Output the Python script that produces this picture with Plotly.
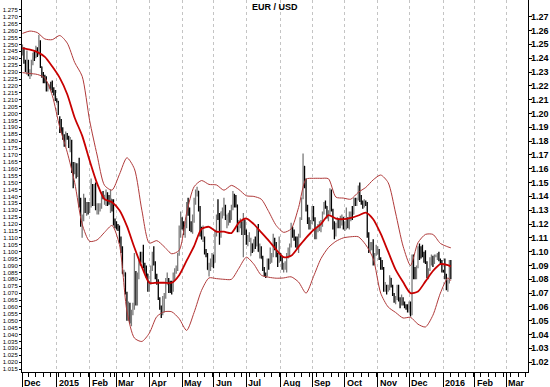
import pandas as pd
import plotly.graph_objects as go

# ---------------- data ----------------
first_day = "2014-12-01"
last_bar_day = "2016-01-08"
axis_end_day = "2016-03-31"
missing_days = ["2015-02-24", "2015-02-25"]   # days absent from the source data

opens = [
    # Dec 2014
    1.2452, 1.2470, 1.2380, 1.2310, 1.2380, 1.2290, 1.2310, 1.2380, 1.2440, 1.2430, 1.2470, 1.2440,
    1.2510, 1.2340, 1.2290, 1.2230, 1.2230, 1.2180, 1.2190, 1.2200, 1.2180, 1.2160, 1.2160,
    # Jan 2015
    1.2100, 1.2090, 1.1960, 1.1930, 1.1890, 1.1840, 1.1790, 1.1840, 1.1830, 1.1770, 1.1790, 1.1630,
    1.1570, 1.1640, 1.1560, 1.1610, 1.1370, 1.1150, 1.1240, 1.1380, 1.1290, 1.1320,
    # Feb
    1.1290, 1.1340, 1.1480, 1.1340, 1.1480, 1.1310, 1.1320, 1.1320, 1.1330, 1.1400, 1.1390, 1.1410,
    1.1410, 1.1400, 1.1370, 1.1380, 1.1360, 1.1200,
    # Mar
    1.1190, 1.1180, 1.1180, 1.1070, 1.1030, 1.0840, 1.0850, 1.0700, 1.0550, 1.0620, 1.0490, 1.0570,
    1.0600, 1.0850, 1.0660, 1.0820, 1.0940, 1.0930, 1.0970, 1.0890, 1.0890, 1.0840,
    # Apr
    1.0730, 1.0770, 1.0880, 1.0980, 1.0920, 1.0810, 1.0780, 1.0660, 1.0600, 1.0570, 1.0660, 1.0680,
    1.0760, 1.0800, 1.0740, 1.0730, 1.0730, 1.0820, 1.0870, 1.0890, 1.0980, 1.1130,
    # May
    1.1220, 1.1200, 1.1140, 1.1180, 1.1350, 1.1270, 1.1200, 1.1160, 1.1220, 1.1350, 1.1410, 1.1440,
    1.1310, 1.1150, 1.1090, 1.1100, 1.1010, 1.0980, 1.0870, 1.0900, 1.0920,
    # Jun
    1.0960, 1.0920, 1.1150, 1.1250, 1.1240, 1.1110, 1.1290, 1.1290, 1.1320, 1.1250, 1.1260, 1.1280,
    1.1240, 1.1330, 1.1370, 1.1350, 1.1340, 1.1170, 1.1200, 1.1200, 1.0980, 1.1230,
    # Jul
    1.1150, 1.1060, 1.1090, 1.0970, 1.1060, 1.1010, 1.1080, 1.1040, 1.1160, 1.1000, 1.1010, 1.0950,
    1.0880, 1.0830, 1.0830, 1.0940, 1.0930, 1.0980, 1.0980, 1.1090, 1.1060, 1.0990, 1.0930,
    # Aug
    1.0980, 1.0950, 1.0890, 1.0900, 1.0920, 1.0970, 1.1020, 1.1040, 1.1160, 1.1150, 1.1100, 1.1080,
    1.1030, 1.1120, 1.1240, 1.1390, 1.1620, 1.1510, 1.1320, 1.1240, 1.1180,
    # Sep
    1.1210, 1.1310, 1.1230, 1.1120, 1.1150, 1.1170, 1.1200, 1.1200, 1.1280, 1.1340, 1.1330, 1.1270,
    1.1280, 1.1430, 1.1300, 1.1190, 1.1130, 1.1190, 1.1210, 1.1190, 1.1240, 1.1250,
    # Oct
    1.1180, 1.1190, 1.1210, 1.1190, 1.1270, 1.1280, 1.1270, 1.1360, 1.1350, 1.1380, 1.1470, 1.1380,
    1.1350, 1.1330, 1.1350, 1.1340, 1.1110, 1.1020, 1.1050, 1.1050, 1.0920, 1.0980,
    # Nov
    1.1010, 1.1010, 1.0950, 1.0880, 1.0880, 1.0740, 1.0750, 1.0720, 1.0730, 1.0810, 1.0730, 1.0690,
    1.0640, 1.0660, 1.0730, 1.0650, 1.0640, 1.0650, 1.0620, 1.0610, 1.0590,
    # Dec
    1.0570, 1.0630, 1.0610, 1.0940, 1.0880, 1.0840, 1.0890, 1.1020, 1.0990, 1.0990, 1.0990, 1.0930,
    1.0920, 1.0830, 1.0870, 1.0920, 1.0960, 1.0920, 1.0970, 1.0970, 1.0970, 1.0940, 1.0930,
    # Jan 2016
    1.0860, 1.0860, 1.0830, 1.0750, 1.0780, 1.0930,
]
highs = [
    1.2500, 1.2480, 1.2390, 1.2456, 1.2390, 1.2320, 1.2390, 1.2440, 1.2460, 1.2490, 1.2480, 1.2570,
    1.2530, 1.2340, 1.2300, 1.2280, 1.2270, 1.2220, 1.2210, 1.2230, 1.2240, 1.2190, 1.2170,
    1.2110, 1.2090, 1.1980, 1.1960, 1.1900, 1.1850, 1.1870, 1.1860, 1.1840, 1.1830, 1.1810, 1.1650,
    1.1650, 1.1640, 1.1640, 1.1680, 1.1390, 1.1270, 1.1420, 1.1390, 1.1360, 1.1360,
    1.1360, 1.1530, 1.1490, 1.1490, 1.1500, 1.1350, 1.1350, 1.1350, 1.1430, 1.1440, 1.1410, 1.1450,
    1.1430, 1.1410, 1.1450, 1.1380, 1.1380, 1.1240,
    1.1220, 1.1200, 1.1190, 1.1110, 1.1040, 1.0870, 1.0850, 1.0710, 1.0640, 1.0630, 1.0580, 1.0630,
    1.0990, 1.0860, 1.0850, 1.0950, 1.1000, 1.1000, 1.1050, 1.0920, 1.0900, 1.0840,
    1.0790, 1.0900, 1.1000, 1.1040, 1.0930, 1.0840, 1.0800, 1.0670, 1.0610, 1.0680, 1.0700, 1.0810,
    1.0850, 1.0810, 1.0790, 1.0790, 1.0850, 1.0880, 1.0900, 1.0990, 1.1190, 1.1290,
    1.1250, 1.1220, 1.1220, 1.1360, 1.1390, 1.1320, 1.1220, 1.1270, 1.1390, 1.1450, 1.1470, 1.1440,
    1.1330, 1.1180, 1.1190, 1.1110, 1.1020, 1.0990, 1.0920, 1.0950, 1.0990,
    1.0980, 1.1160, 1.1270, 1.1380, 1.1280, 1.1290, 1.1320, 1.1390, 1.1340, 1.1270, 1.1280, 1.1300,
    1.1340, 1.1440, 1.1420, 1.1410, 1.1340, 1.1230, 1.1240, 1.1220, 1.1280, 1.1230,
    1.1160, 1.1120, 1.1140, 1.1100, 1.1060, 1.1090, 1.1110, 1.1170, 1.1200, 1.1060, 1.1040, 1.0970,
    1.0890, 1.0850, 1.0950, 1.0950, 1.1030, 1.0990, 1.1130, 1.1100, 1.1070, 1.0990, 1.1110,
    1.0990, 1.0970, 1.0920, 1.0930, 1.0990, 1.1030, 1.1060, 1.1210, 1.1180, 1.1160, 1.1110, 1.1110,
    1.1130, 1.1250, 1.1390, 1.1710, 1.1620, 1.1530, 1.1340, 1.1250, 1.1230,
    1.1330, 1.1330, 1.1250, 1.1170, 1.1200, 1.1220, 1.1230, 1.1290, 1.1360, 1.1370, 1.1330, 1.1300,
    1.1460, 1.1450, 1.1310, 1.1220, 1.1210, 1.1250, 1.1240, 1.1260, 1.1270, 1.1250,
    1.1220, 1.1320, 1.1250, 1.1290, 1.1290, 1.1330, 1.1390, 1.1390, 1.1390, 1.1480, 1.1500, 1.1410,
    1.1370, 1.1380, 1.1370, 1.1360, 1.1140, 1.1070, 1.1070, 1.1090, 1.0990, 1.1050,
    1.1040, 1.1020, 1.0960, 1.0940, 1.0890, 1.0780, 1.0760, 1.0760, 1.0830, 1.0810, 1.0760, 1.0700,
    1.0680, 1.0760, 1.0760, 1.0670, 1.0690, 1.0670, 1.0640, 1.0620, 1.0620,
    1.0640, 1.0640, 1.0980, 1.0980, 1.0890, 1.0900, 1.1040, 1.1060, 1.1040, 1.1050, 1.1000, 1.1010,
    1.0930, 1.0880, 1.0960, 1.0980, 1.0970, 1.0980, 1.0980, 1.0990, 1.1000, 1.0950, 1.0940,
    1.0870, 1.0950, 1.0840, 1.0800, 1.0940, 1.0940,
]
lows = [
    1.2420, 1.2360, 1.2300, 1.2280, 1.2270, 1.2250, 1.2270, 1.2350, 1.2380, 1.2400, 1.2410, 1.2420,
    1.2330, 1.2260, 1.2220, 1.2220, 1.2160, 1.2160, 1.2180, 1.2170, 1.2150, 1.2130, 1.2090,
    1.2080, 1.1990, 1.1860, 1.1860, 1.1810, 1.1760, 1.1760, 1.1810, 1.1750, 1.1720, 1.1570, 1.1460,
    1.1560, 1.1530, 1.1540, 1.1320, 1.1180, 1.1100, 1.1220, 1.1280, 1.1260, 1.1270,
    1.1280, 1.1320, 1.1330, 1.1330, 1.1300, 1.1270, 1.1270, 1.1290, 1.1310, 1.1380, 1.1340, 1.1330,
    1.1330, 1.1340, 1.1280, 1.1290, 1.1190, 1.1170,
    1.1160, 1.1150, 1.1060, 1.0990, 1.0840, 1.0820, 1.0690, 1.0500, 1.0500, 1.0480, 1.0460, 1.0540,
    1.0580, 1.0610, 1.0610, 1.0800, 1.0900, 1.0920, 1.0880, 1.0840, 1.0810, 1.0710,
    1.0710, 1.0760, 1.0860, 1.0900, 1.0800, 1.0760, 1.0650, 1.0580, 1.0520, 1.0540, 1.0560, 1.0660,
    1.0760, 1.0700, 1.0700, 1.0690, 1.0710, 1.0790, 1.0840, 1.0860, 1.0970, 1.1100,
    1.1160, 1.1120, 1.1100, 1.1170, 1.1260, 1.1150, 1.1140, 1.1130, 1.1210, 1.1340, 1.1400, 1.1290,
    1.1110, 1.1090, 1.1070, 1.0980, 1.0960, 1.0870, 1.0820, 1.0860, 1.0890,
    1.0880, 1.0920, 1.1110, 1.1230, 1.1050, 1.1100, 1.1240, 1.1260, 1.1230, 1.1170, 1.1190, 1.1210,
    1.1230, 1.1300, 1.1320, 1.1320, 1.1140, 1.1140, 1.1170, 1.1120, 1.0960, 1.1120,
    1.1050, 1.1040, 1.1070, 1.0970, 1.0990, 1.1000, 1.1020, 1.1040, 1.1000, 1.0950, 1.0950, 1.0860,
    1.0820, 1.0810, 1.0820, 1.0870, 1.0910, 1.0920, 1.0960, 1.1010, 1.0960, 1.0890, 1.0920,
    1.0930, 1.0870, 1.0850, 1.0870, 1.0850, 1.0950, 1.0960, 1.1030, 1.1100, 1.1080, 1.1030, 1.1020,
    1.0990, 1.1100, 1.1230, 1.1380, 1.1460, 1.1290, 1.1200, 1.1160, 1.1160,
    1.1200, 1.1220, 1.1090, 1.1090, 1.1140, 1.1150, 1.1140, 1.1180, 1.1270, 1.1310, 1.1240, 1.1220,
    1.1270, 1.1290, 1.1160, 1.1090, 1.1110, 1.1170, 1.1170, 1.1170, 1.1190, 1.1160,
    1.1150, 1.1160, 1.1170, 1.1160, 1.1220, 1.1230, 1.1270, 1.1330, 1.1330, 1.1370, 1.1360, 1.1340,
    1.1310, 1.1320, 1.1330, 1.1100, 1.0990, 1.1000, 1.1010, 1.0900, 1.0900, 1.0970,
    1.0980, 1.0940, 1.0870, 1.0870, 1.0710, 1.0710, 1.0690, 1.0710, 1.0720, 1.0740, 1.0680, 1.0630,
    1.0620, 1.0650, 1.0640, 1.0590, 1.0610, 1.0610, 1.0590, 1.0580, 1.0560,
    1.0560, 1.0530, 1.0540, 1.0800, 1.0800, 1.0800, 1.0880, 1.0940, 1.0950, 1.0960, 1.0920, 1.0910,
    1.0810, 1.0800, 1.0860, 1.0900, 1.0890, 1.0910, 1.0960, 1.0940, 1.0930, 1.0910, 1.0850,
    1.0850, 1.0800, 1.0720, 1.0710, 1.0770, 1.0800,
]
closes = [
    1.2470, 1.2380, 1.2310, 1.2380, 1.2290, 1.2310, 1.2380, 1.2440, 1.2430, 1.2470, 1.2440, 1.2510,
    1.2340, 1.2290, 1.2230, 1.2230, 1.2180, 1.2190, 1.2200, 1.2180, 1.2160, 1.2160, 1.2100,
    1.2090, 1.2000, 1.1930, 1.1890, 1.1840, 1.1790, 1.1840, 1.1830, 1.1770, 1.1790, 1.1630, 1.1570,
    1.1640, 1.1560, 1.1610, 1.1370, 1.1200, 1.1240, 1.1380, 1.1290, 1.1320, 1.1290,
    1.1340, 1.1480, 1.1340, 1.1480, 1.1310, 1.1320, 1.1320, 1.1330, 1.1400, 1.1390, 1.1410, 1.1410,
    1.1400, 1.1370, 1.1380, 1.1330, 1.1200, 1.1190,
    1.1180, 1.1180, 1.1070, 1.1030, 1.0840, 1.0850, 1.0700, 1.0550, 1.0620, 1.0490, 1.0570, 1.0600,
    1.0850, 1.0660, 1.0820, 1.0940, 1.0930, 1.0970, 1.0890, 1.0890, 1.0840, 1.0730,
    1.0770, 1.0880, 1.0980, 1.0920, 1.0810, 1.0780, 1.0660, 1.0600, 1.0570, 1.0660, 1.0680, 1.0760,
    1.0800, 1.0740, 1.0730, 1.0730, 1.0820, 1.0870, 1.0890, 1.0980, 1.1130, 1.1220,
    1.1200, 1.1140, 1.1180, 1.1350, 1.1270, 1.1200, 1.1160, 1.1220, 1.1350, 1.1410, 1.1440, 1.1310,
    1.1150, 1.1090, 1.1100, 1.1010, 1.0980, 1.0870, 1.0900, 1.0920, 1.0960,
    1.0920, 1.1150, 1.1250, 1.1240, 1.1110, 1.1290, 1.1290, 1.1320, 1.1250, 1.1260, 1.1280, 1.1240,
    1.1330, 1.1370, 1.1350, 1.1340, 1.1170, 1.1200, 1.1200, 1.1160, 1.1230, 1.1150,
    1.1060, 1.1090, 1.1110, 1.1060, 1.1010, 1.1080, 1.1040, 1.1160, 1.1000, 1.1010, 1.0950, 1.0880,
    1.0830, 1.0830, 1.0940, 1.0930, 1.0980, 1.0980, 1.1090, 1.1060, 1.0990, 1.0930, 1.0980,
    1.0950, 1.0890, 1.0900, 1.0920, 1.0970, 1.1020, 1.1040, 1.1160, 1.1150, 1.1100, 1.1080, 1.1030,
    1.1120, 1.1240, 1.1390, 1.1620, 1.1510, 1.1320, 1.1240, 1.1180, 1.1210,
    1.1310, 1.1230, 1.1120, 1.1150, 1.1170, 1.1200, 1.1200, 1.1280, 1.1340, 1.1330, 1.1270, 1.1280,
    1.1430, 1.1300, 1.1190, 1.1130, 1.1190, 1.1210, 1.1190, 1.1240, 1.1250, 1.1180,
    1.1190, 1.1210, 1.1190, 1.1270, 1.1280, 1.1270, 1.1360, 1.1350, 1.1380, 1.1470, 1.1380, 1.1350,
    1.1330, 1.1350, 1.1340, 1.1110, 1.1020, 1.1050, 1.1050, 1.0920, 1.0980, 1.1010,
    1.1010, 1.0950, 1.0880, 1.0880, 1.0740, 1.0750, 1.0720, 1.0730, 1.0810, 1.0770, 1.0690, 1.0640,
    1.0660, 1.0730, 1.0650, 1.0640, 1.0650, 1.0620, 1.0610, 1.0590, 1.0570,
    1.0630, 1.0610, 1.0940, 1.0880, 1.0840, 1.0890, 1.1020, 1.0990, 1.0990, 1.0990, 1.0930, 1.0920,
    1.0830, 1.0870, 1.0920, 1.0960, 1.0920, 1.0970, 1.0970, 1.0970, 1.0940, 1.0930, 1.0860,
    1.0860, 1.0830, 1.0750, 1.0780, 1.0930, 1.0920,
]

# 20-day moving average and Bollinger bands (weekly samples)
band_dates = [
    "2014-12-01", "2014-12-08", "2014-12-15", "2014-12-22", "2014-12-29", "2015-01-05", "2015-01-12",
    "2015-01-19", "2015-01-26", "2015-02-02", "2015-02-09", "2015-02-16", "2015-02-23",
    "2015-03-04", "2015-03-11", "2015-03-18", "2015-03-25", "2015-04-01", "2015-04-08", "2015-04-15",
    "2015-04-22", "2015-04-29", "2015-05-06", "2015-05-13", "2015-05-20", "2015-05-27", "2015-06-03",
    "2015-06-10", "2015-06-17", "2015-06-24", "2015-07-01", "2015-07-08", "2015-07-15", "2015-07-22",
    "2015-07-29", "2015-08-05", "2015-08-12", "2015-08-19", "2015-08-26", "2015-09-02", "2015-09-09",
    "2015-09-16", "2015-09-23", "2015-09-30", "2015-10-07", "2015-10-14", "2015-10-21", "2015-10-28",
    "2015-11-04", "2015-11-11", "2015-11-18", "2015-11-25", "2015-12-02", "2015-12-09", "2015-12-16",
    "2015-12-23", "2015-12-30", "2016-01-06", "2016-01-08",
]
ma20 = [
    1.2473, 1.2462, 1.2445, 1.2410, 1.2340, 1.2258, 1.2140, 1.1970, 1.1840, 1.1660, 1.1495, 1.1380, 1.1358,
    1.1300, 1.1185, 1.1030, 1.0890, 1.0775, 1.0775, 1.0775, 1.0775, 1.0830, 1.0935, 1.1040, 1.1165,
    1.1180, 1.1145, 1.1145, 1.1135, 1.1210, 1.1240, 1.1200, 1.1140, 1.1080, 1.1015, 1.0960, 1.0970,
    1.1035, 1.1100, 1.1157, 1.1200, 1.1265, 1.1240, 1.1235, 1.1245, 1.1262, 1.1283, 1.1235, 1.1130,
    1.1000, 1.0870, 1.0780, 1.0700, 1.0712, 1.0785, 1.0860, 1.0910, 1.0902, 1.0893,
]
upper_band = [
    1.2580, 1.2597, 1.2586, 1.2540, 1.2535, 1.2565, 1.2510, 1.2370, 1.2270, 1.1950, 1.1700, 1.1480, 1.1446,
    1.1560, 1.1680, 1.1600, 1.1300, 1.1062, 1.1080, 1.1036, 1.0985, 1.1010, 1.1280, 1.1470, 1.1515,
    1.1487, 1.1483, 1.1445, 1.1480, 1.1450, 1.1405, 1.1400, 1.1380, 1.1290, 1.1190, 1.1140, 1.1165,
    1.1320, 1.1525, 1.1531, 1.1531, 1.1528, 1.1395, 1.1388, 1.1380, 1.1430, 1.1465, 1.1520, 1.1555,
    1.1500, 1.1280, 1.1040, 1.0900, 1.1065, 1.1125, 1.1125, 1.1060, 1.1035, 1.1028,
]
lower_band = [
    1.2296, 1.2290, 1.2283, 1.2258, 1.2130, 1.1900, 1.1720, 1.1500, 1.1200, 1.1075, 1.1085, 1.1140, 1.1190,
    1.1050, 1.0570, 1.0375, 1.0350, 1.0410, 1.0530, 1.0565, 1.0565, 1.0515, 1.0430, 1.0560, 1.0720,
    1.0810, 1.0805, 1.0800, 1.0800, 1.0880, 1.0960, 1.0910, 1.0830, 1.0815, 1.0808, 1.0810, 1.0818,
    1.0780, 1.0700, 1.0820, 1.0950, 1.1030, 1.1075, 1.1100, 1.1108, 1.1108, 1.1050, 1.0950, 1.0700,
    1.0600, 1.0560, 1.0520, 1.0525, 1.0475, 1.0455, 1.0540, 1.0700, 1.0810, 1.0790,
]

month_labels = ["Dec", "2015", "Feb", "Mar", "Apr", "May", "Jun", "Jul", "Aug", "Sep",
                "Oct", "Nov", "Dec", "2016", "Feb", "Mar"]
left_ticks = [round(1.015 + 0.005 * k, 3) for k in range(53)]
right_ticks = [round(1.02 + 0.01 * k, 2) for k in range(26)]
y_range = [1.0129, 1.2822]

# ---------------- trading-day axis ----------------
cal = pd.bdate_range(first_day, axis_end_day)
cal = cal[~cal.isin(pd.to_datetime(missing_days))]
pos = {d: i for i, d in enumerate(cal)}
bar_days = cal[cal <= pd.Timestamp(last_bar_day)]
x_bars = [pos[d] for d in bar_days]
assert len(x_bars) == len(opens) == len(highs) == len(lows) == len(closes)
x_band = [pos[pd.Timestamp(d)] for d in band_dates]

s = pd.Series(range(len(cal)), index=cal)
month_pos = list(s.groupby([cal.year, cal.month]).first().values)
friday_pos = [pos[d] for d in cal if d.weekday() == 4]

FONT = "Liberation Sans, Arial, sans-serif"

fig = go.Figure()
fig.add_trace(go.Ohlc(
    x=x_bars, open=opens, high=highs, low=lows, close=closes,
    increasing=dict(line=dict(color="#7a7a7a", width=1.3)),
    decreasing=dict(line=dict(color="#000000", width=1.3)),
    tickwidth=0.3, hoverinfo="skip", showlegend=False,
))
for vals, col, w in [(upper_band, "#b03a3a", 1), (lower_band, "#b03a3a", 1), (ma20, "#c80000", 1.8)]:
    fig.add_trace(go.Scatter(
        x=x_band, y=vals, mode="lines", yaxis="y2",
        line=dict(color=col, width=w, shape="spline", smoothing=0.7),
        hoverinfo="skip", showlegend=False,
    ))

annotations = [dict(text="<b>EUR / USD</b>", x=0.5, xref="paper", y=1, yref="paper",
                    yanchor="top", xanchor="center", yshift=-1, showarrow=False, borderpad=0,
                    font=dict(size=9, color="black", family=FONT))]
for p, lab in zip(month_pos, month_labels):
    annotations.append(dict(text="<b>" + lab + "</b>", x=p, xref="x", y=0, yref="paper",
                            xanchor="left", yanchor="middle", xshift=1, yshift=-10.5,
                            borderpad=0, showarrow=False,
                            font=dict(size=9, color="black", family=FONT)))
for v in right_ticks:
    annotations.append(dict(text="<b>%.2f</b>" % v, x=1, xref="paper", y=v, yref="y",
                            xanchor="left", yanchor="middle", xshift=2, borderpad=0,
                            showarrow=False, font=dict(size=9, color="black", family=FONT)))

fig.update_layout(
    width=550, height=387,
    margin=dict(l=22, r=22, t=0, b=15, autoexpand=False),
    paper_bgcolor="white", plot_bgcolor="white",
    font=dict(family=FONT, color="black"),
    annotations=annotations,
    xaxis=dict(
        range=[-0.3, 338.7], tickmode="array", tickvals=month_pos, showticklabels=False,
        ticks="outside", ticklen=15, tickcolor="black", tickwidth=1, automargin=False,
        showgrid=True, gridcolor="#c4c4c4", griddash="dot", gridwidth=1,
        showline=True, linecolor="black", linewidth=1, zeroline=False,
        minor=dict(tickmode="array", tickvals=friday_pos, ticks="outside", ticklen=4,
                   tickcolor="black", tickwidth=1, showgrid=False),
        rangeslider=dict(visible=False), fixedrange=True,
    ),
    yaxis=dict(
        range=y_range, tickmode="array", tickvals=left_ticks,
        ticktext=["%.3f" % v for v in left_ticks],
        tickfont=dict(size=6, color="black", family=FONT), automargin=False,
        ticks="outside", ticklen=2, tickcolor="black",
        showgrid=False, zeroline=False, showline=True, linecolor="black", linewidth=1,
        fixedrange=True,
    ),
    yaxis2=dict(
        range=y_range, overlaying="y", side="right", tickmode="array", tickvals=right_ticks,
        showticklabels=False, automargin=False,
        ticks="outside", ticklen=3, tickcolor="black",
        showgrid=False, zeroline=False, showline=True, linecolor="black", linewidth=1,
        fixedrange=True,
    ),
)

fig.write_html(
    "out.html",
    config={"displayModeBar": False},
    post_script="document.body.style.margin='0px';document.body.style.overflow='hidden';",
)
